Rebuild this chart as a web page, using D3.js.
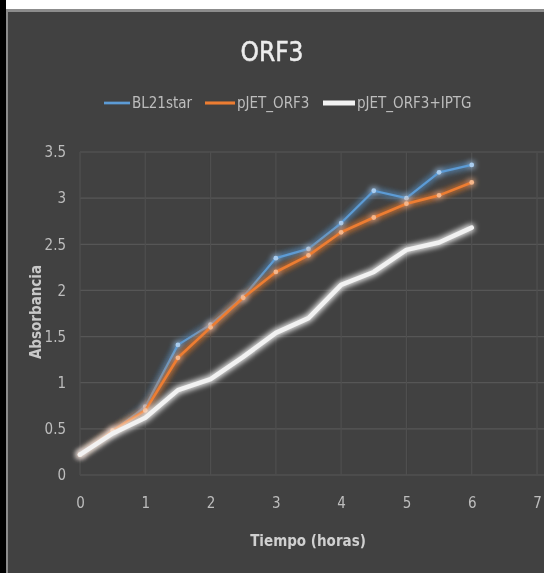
<!DOCTYPE html>
<html>
<head>
<meta charset="utf-8">
<script src="https://cdn.jsdelivr.net/npm/d3@7"></script>
<style>
  html, body { margin: 0; padding: 0; background: #ffffff; }
  svg { display: block; }
  text { font-family: "DejaVu Sans", sans-serif; font-stretch: condensed; }
</style>
</head>
<body>
<script>
// Growth curves (absorbance vs. time in hours)
const hours = [0, 0.5, 1, 1.5, 2, 2.5, 3, 3.5, 4, 4.5, 5, 5.5, 6];
const bl21star   = [0.22, 0.47, 0.74, 1.41, 1.63, 1.93, 2.35, 2.45, 2.73, 3.08, 3.00, 3.28, 3.36];
const pjetOrf3   = [0.22, 0.48, 0.70, 1.27, 1.60, 1.92, 2.20, 2.38, 2.63, 2.79, 2.94, 3.03, 3.17];
const pjetOrf3Iptg = [0.22, 0.45, 0.62, 0.92, 1.04, 1.28, 1.54, 1.70, 2.06, 2.20, 2.44, 2.52, 2.68];
const seriesNames = ["BL21star", "pJET_ORF3", "pJET_ORF3+IPTG"];
const seriesColors = ["#5b9bd5", "#ed7d31", "#f2f2f2"];
const xTicks = [0, 1, 2, 3, 4, 5, 6, 7];
const yTicks = [0, 0.5, 1, 1.5, 2, 2.5, 3, 3.5];

const W = 544, H = 573;
const svg = d3.select("body").append("svg").attr("width", W).attr("height", H);

const defs = svg.append("defs");
const glow = defs.append("filter").attr("id", "glow")
  .attr("x", "-20%").attr("y", "-20%").attr("width", "140%").attr("height", "140%");
glow.append("feGaussianBlur").attr("in", "SourceGraphic").attr("stdDeviation", 3).attr("result", "b");
const merge = glow.append("feMerge");
merge.append("feMergeNode").attr("in", "b");
merge.append("feMergeNode").attr("in", "b");
merge.append("feMergeNode").attr("in", "SourceGraphic");

const soft = defs.append("filter").attr("id", "soft");
soft.append("feGaussianBlur").attr("stdDeviation", 0.6);

// frame
svg.append("rect").attr("x", 0).attr("y", 0).attr("width", W).attr("height", H).attr("fill", "#ffffff");
svg.append("rect").attr("x", 0).attr("y", 9).attr("width", W).attr("height", H - 9).attr("fill", "#8c8c8c");
svg.append("rect").attr("x", 0).attr("y", 0).attr("width", 6).attr("height", H).attr("fill", "#000000");
svg.append("rect").attr("x", 8).attr("y", 12).attr("width", W - 8).attr("height", H - 12).attr("fill", "#414141");

const x = d3.scaleLinear().domain([0, 7]).range([80, 537]);
const y = d3.scaleLinear().domain([0, 3.5]).range([475, 152]);

// gridlines
const grid = svg.append("g").attr("filter", "url(#soft)");
grid.selectAll("line.h").data(yTicks).join("line")
  .attr("x1", x(0)).attr("x2", W).attr("y1", d => y(d)).attr("y2", d => y(d))
  .attr("stroke", "#565656").attr("stroke-width", 1.2);
grid.selectAll("line.v").data(xTicks).join("line")
  .attr("y1", y(3.5)).attr("y2", y(0)).attr("x1", d => x(d)).attr("x2", d => x(d))
  .attr("stroke", "#4f4f4f").attr("stroke-width", 1.2);

// axes
const yAxis = svg.append("g").attr("transform", `translate(${x(0)},0)`)
  .call(d3.axisLeft(y).tickValues(yTicks).tickSize(0).tickPadding(14).tickFormat(d3.format("")));
const xAxis = svg.append("g").attr("transform", `translate(0,${y(0)})`)
  .call(d3.axisBottom(x).tickValues(xTicks).tickSize(0).tickPadding(22).tickFormat(d3.format("d")));
[yAxis, xAxis].forEach(a => {
  a.select(".domain").remove();
  a.selectAll("text").attr("fill", "#bdbdbd").attr("font-size", 15).attr("filter", "url(#soft)");
});

// series lines
const line = d3.line().x((d, i) => x(hours[i])).y(d => y(d));
const seriesData = [bl21star, pjetOrf3, pjetOrf3Iptg];
const widths = [2.2, 2.6, 4.5];
[0, 1, 2].forEach(k => {
  const g = svg.append("g").attr("filter", "url(#glow)");
  g.append("path").datum(seriesData[k]).attr("d", line)
    .attr("fill", "none").attr("stroke", seriesColors[k])
    .attr("stroke-width", widths[k]).attr("stroke-linejoin", "round").attr("stroke-linecap", "round");
  if (k < 2) {
    g.selectAll("circle").data(seriesData[k]).join("circle")
      .attr("cx", (d, i) => x(hours[i])).attr("cy", d => y(d)).attr("r", 2.4)
      .attr("fill", k === 0 ? "#a9cdf0" : "#f6b68a");
  }
});

// title
svg.append("text").attr("x", 272).attr("y", 61).attr("text-anchor", "middle")
  .attr("font-size", 26).attr("fill", "#ececec").attr("stroke", "#ececec").attr("stroke-width", 0.5)
  .attr("filter", "url(#soft)")
  .text("ORF3");

// legend
const legendX = [104, 205, 323];
const legendW = [26, 30, 32];
const legend = svg.append("g").attr("filter", "url(#soft)");
seriesNames.forEach((name, k) => {
  legend.append("line").attr("x1", legendX[k]).attr("x2", legendX[k] + legendW[k])
    .attr("y1", 103).attr("y2", 103).attr("stroke", seriesColors[k]).attr("stroke-width", widths[k] + 0.5);
  legend.append("text").attr("x", legendX[k] + legendW[k] + 2).attr("y", 108)
    .attr("font-size", 15).attr("fill", "#bdbdbd").text(name);
});

// axis titles
svg.append("text").attr("transform", "translate(41,312) rotate(-90)").attr("text-anchor", "middle")
  .attr("font-size", 15).attr("font-weight", "bold").attr("fill", "#c8c8c8").attr("filter", "url(#soft)")
  .text("Absorbancia");
svg.append("text").attr("x", 308).attr("y", 546).attr("text-anchor", "middle")
  .attr("font-size", 15).attr("font-weight", "bold").attr("fill", "#d0d0d0").attr("filter", "url(#soft)")
  .text("Tiempo (horas)");
</script>
</body>
</html>
